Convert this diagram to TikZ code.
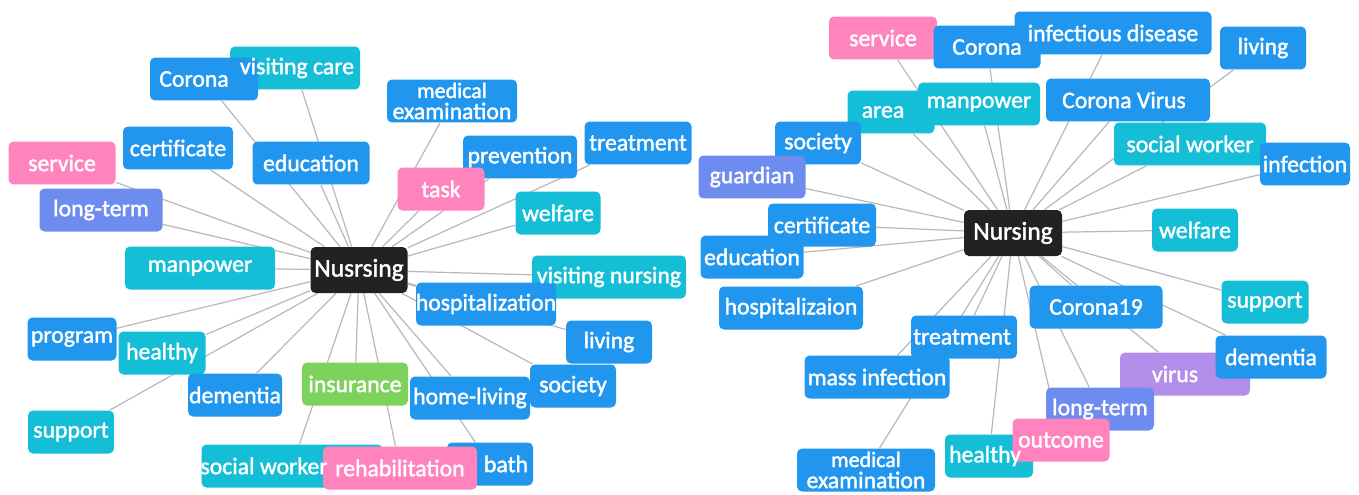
\documentclass[tikz,border=0pt]{standalone}
\usepackage{fontspec}
\setmainfont{Carlito}
\newfontfamily\kwfont{Carlito}[FakeBold=1.6]
\usetikzlibrary{backgrounds}
\definecolor{kwBlue}{RGB}{33,150,238}
\definecolor{kwCyan}{RGB}{20,190,215}
\definecolor{kwPink}{RGB}{255,132,190}
\definecolor{kwIndigo}{RGB}{110,140,240}
\definecolor{kwViolet}{RGB}{178,142,234}
\definecolor{kwGreen}{RGB}{125,210,92}
\definecolor{kwBlack}{RGB}{34,34,34}
\definecolor{kwLine}{RGB}{185,185,185}

\def\kwsmall{\fontsize{12.5}{12.5}\selectfont}
\def\kwbig{\fontsize{14.5}{14}\selectfont}

\tikzset{
  kwbox/.style={rounded corners=0.1cm, minimum height=0.86cm, inner sep=0pt},
  kwtext/.style={text=white, align=center, inner sep=0pt, font=\kwfont\fontsize{13.5}{12}\selectfont},
  kwedge/.style={draw=kwLine, line width=0.7pt}
}

% name/x/y/width/colour/text shift/text  (pixels of the reference)
\def\leftwords{lvisit/295/68/130/kwCyan/2/visiting care,
  lcorona/204/79/108/kwBlue/-10/Corona,
  lmedexam/452/101/130/kwBlue/0/{\kwsmall medical\\examination},
  lcert/178/148/110/kwBlue/0/certificate,
  leduc/311/163/117/kwBlue/0/education,
  lservice/62/163/107/kwPink/0/service,
  lprevent/520/157/114/kwBlue/0/prevention,
  ltreat/638/143/107/kwBlue/0/treatment,
  ltask/441/189/87/kwPink/0/task,
  llong/101/210/123/kwIndigo/0/long-term,
  lwelfare/558/213/85/kwCyan/0/welfare,
  lmanpower/200/268/150/kwCyan/0/manpower,
  lvisitn/609/277/154/kwCyan/0/visiting nursing,
  lhosp/486/304/140/kwBlue/0/hospitalization,
  lliving/609/342/86/kwBlue/0/living,
  lprogram/72/339/89/kwBlue/0/program,
  lhealthy/162/353/87/kwCyan/0/healthy,
  lsociety/573/386/86/kwBlue/0/society,
  ldementia/235/395/94/kwBlue/0/dementia,
  linsur/355/384/106/kwGreen/0/insurance,
  lhome/470/398/120/kwBlue/0/home-living,
  lsupport/71/432/86/kwCyan/0/support,
  lsocial/292/466/181/kwCyan/-28/social worker,
  lbath/490/464/86/kwBlue/16/bath,
  lrehab/400/468/154/kwPink/0/rehabilitation}

\def\rightwords{rservice/883/38/108/kwPink/0/service,
  rcorona/987/47/107/kwBlue/0/Corona,
  rinfect/1113/33/197/kwBlue/0/infectious disease,
  rliving/1263/48/86/kwBlue/0/living,
  rarea/891/112/87/kwCyan/-8/area,
  rmanpower/979/104/122/kwCyan/0/manpower,
  rcvirus/1128/100/164/kwBlue/-4/Corona Virus,
  rsociety/818/143/86/kwBlue/0/society,
  rguard/752/177/107/kwIndigo/0/guardian,
  rsocial/1190/144/152/kwCyan/0/social worker,
  rinfection/1305/164/90/kwBlue/0/infection,
  rwelfare/1195/230/86/kwCyan/0/welfare,
  rcert/822/225/108/kwBlue/0/certificate,
  reduc/752/257/103/kwBlue/0/education,
  rhosp/791/308/144/kwBlue/0/hospitalizaion,
  rsupport/1265/302/87/kwCyan/0/support,
  rcorona19/1096/307/133/kwBlue/0/Corona19,
  rtreat/964/337/106/kwBlue/-2/treatment,
  rmass/877/377/145/kwBlue/0/mass infection,
  rvirus/1185/374/130/kwViolet/-10/virus,
  rdementia/1271/357/111/kwBlue/0/dementia,
  rlong/1100/409/108/kwIndigo/0/long-term,
  rhealthy/989/456/88/kwCyan/-4/healthy,
  routcome/1061/440/97/kwPink/0/outcome,
  rmedexam/866/470/138/kwBlue/0/{\kwsmall medical\\examination}}

\begin{document}
\begin{tikzpicture}[x=0.02cm, y=-0.02cm]
  \useasboundingbox (0,0) rectangle (1359,494);

  % the two hubs
  \node[kwbox, fill=kwBlack, minimum width=97*0.02cm, minimum height=0.92cm] (lnurse) at (359,270) {};
  \node[kwbox, fill=kwBlack, minimum width=98*0.02cm, minimum height=0.92cm] (rnurse) at (1013,233) {};

  % keyword boxes first
  \foreach \name/\px/\py/\bw/\col/\dx/\txt in \leftwords {
    \node[kwbox, fill=\col, minimum width=\bw*0.02cm] (\name) at (\px,\py) {};
  }
  \foreach \name/\px/\py/\bw/\col/\dx/\txt in \rightwords {
    \node[kwbox, fill=\col, minimum width=\bw*0.02cm] (\name) at (\px,\py) {};
  }

  % links sit behind the boxes
  \begin{scope}[on background layer]
    \foreach \name/\px/\py/\bw/\col/\dx/\txt in \leftwords {
      \draw[kwedge] (lnurse) -- (\name);
    }
    \foreach \name/\px/\py/\bw/\col/\dx/\txt in \rightwords {
      \draw[kwedge] (rnurse) -- (\name);
    }
  \end{scope}

  % labels on top of all boxes
  \foreach \name/\px/\py/\bw/\col/\dx/\txt in \leftwords {
    \node[kwtext] (\name-t) at ([xshift=\dx*0.02cm]\name.center) {\txt};
  }
  \foreach \name/\px/\py/\bw/\col/\dx/\txt in \rightwords {
    \node[kwtext] (\name-t) at ([xshift=\dx*0.02cm]\name.center) {\txt};
  }
  \node[kwtext] (lnurse-t) at (lnurse) {\kwbig Nusrsing};
  \node[kwtext] (rnurse-t) at (rnurse) {\kwbig Nursing};
\end{tikzpicture}
\end{document}
